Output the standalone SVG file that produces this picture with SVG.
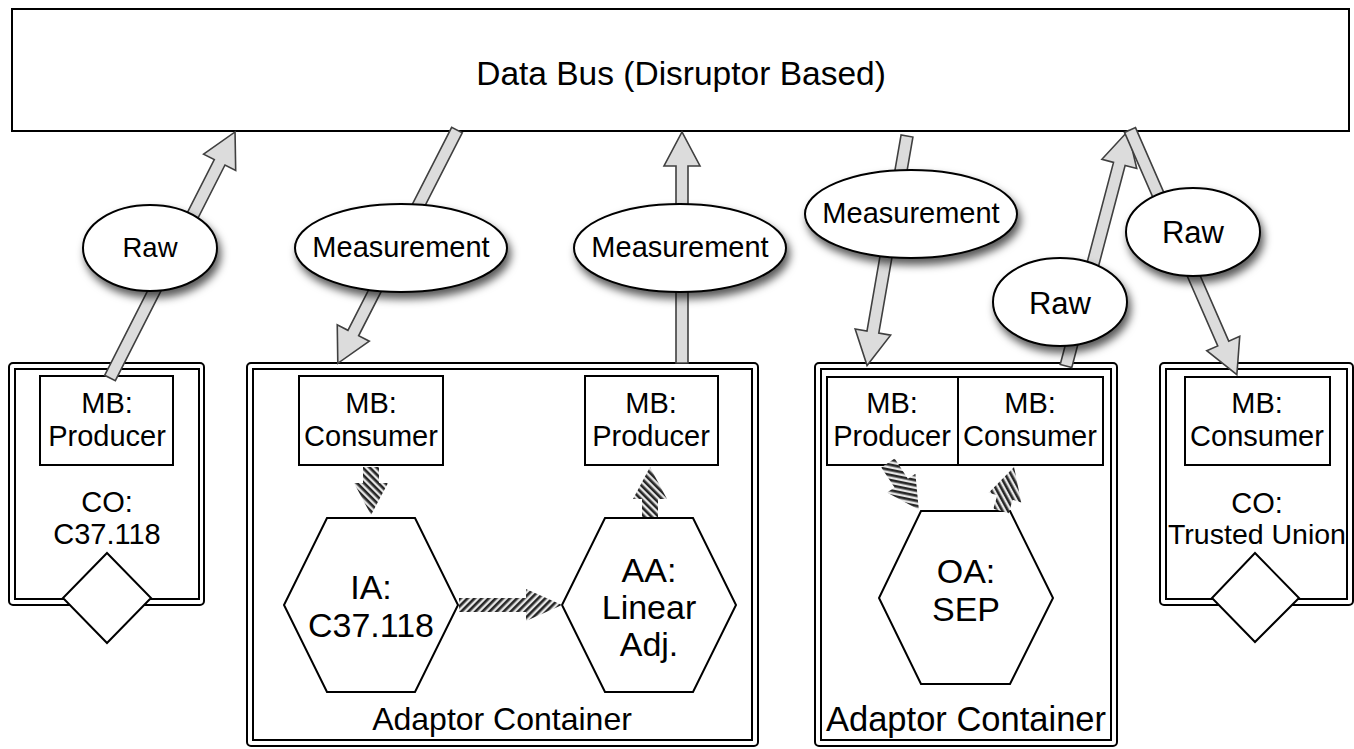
<svg xmlns="http://www.w3.org/2000/svg" width="1354" height="749" viewBox="0 0 1354 749">
  <defs>
    <style>
      text { font-family: "Liberation Sans", Arial, sans-serif; fill: #000; text-anchor: middle; }
      .box { fill: #fff; stroke: #000; stroke-width: 2; }
      .outer { fill: #fff; stroke: #000; stroke-width: 2; }
      .inner { fill: none; stroke: #000; stroke-width: 2; }
      .hex { fill: #fff; stroke: #000; stroke-width: 2; stroke-linejoin: miter; }
      .flow { fill: #dcdcdc; stroke: #404040; stroke-width: 1.6; stroke-linejoin: miter; }
      .link { fill: url(#stripes); stroke: none; }
      .tag { fill: #fff; stroke: #000; stroke-width: 2; filter: url(#shadow); }
      .t29 { font-size: 29px; }
      .t31 { font-size: 31px; }
      .t34 { font-size: 34px; }
    </style>
    <pattern id="stripes" width="5" height="5" patternUnits="userSpaceOnUse" patternTransform="rotate(45)">
      <rect width="5" height="5" fill="#e6e6e6"/>
      <rect width="2.6" height="5" fill="#262626"/>
    </pattern>
    <filter id="shadow" x="-30%" y="-30%" width="160%" height="180%">
      <feDropShadow dx="3" dy="6" stdDeviation="4" flood-color="#000" flood-opacity="0.65"/>
    </filter>
  </defs>

  <!-- shared bus -->
  <g id="data-bus">
    <rect x="12" y="9" width="1337" height="122" class="box"/>
    <text x="681" y="85" style="font-size:33.5px">Data Bus (Disruptor Based)</text>
  </g>

  <!-- left connector: C37.118 -->
  <g id="co-c37">
    <rect x="9" y="363" width="195" height="242" rx="4" class="outer"/>
    <rect x="15" y="369" width="184" height="230" class="inner"/>
    <rect x="40" y="376" width="133" height="89" class="box"/>
    <text x="107" y="413" class="t29">MB:</text>
    <text x="107" y="446" class="t29">Producer</text>
    <text x="107" y="512" class="t29">CO:</text>
    <text x="107" y="544" class="t29">C37.118</text>
    <polygon points="107,553 151,598 107,643 63,598" class="box"/>
  </g>

  <!-- adaptor container: input + linear adjustment -->
  <g id="adaptor-container-1">
    <rect x="247" y="363" width="511" height="383" rx="4" class="outer"/>
    <rect x="253" y="369" width="499" height="371" class="inner"/>
    <text x="502" y="730" style="font-size:32px">Adaptor Container</text>
  </g>
  <g id="mb-consumer-1">
    <rect x="299" y="376" width="144" height="89" class="box"/>
    <text x="371" y="413" class="t29">MB:</text>
    <text x="371" y="446" class="t29">Consumer</text>
  </g>
  <g id="mb-producer-1">
    <rect x="585" y="376" width="133" height="89" class="box"/>
    <text x="651" y="413" class="t29">MB:</text>
    <text x="651" y="446" class="t29">Producer</text>
  </g>
  <g id="ia-c37">
    <polygon points="327,518 415,518 458,605 415,692 327,692 284,605" class="hex"/>
    <text x="371" y="599" class="t34">IA:</text>
    <text x="371" y="637" class="t34">C37.118</text>
  </g>
  <g id="aa-linear">
    <polygon points="605,518 693,518 736,605 693,692 605,692 562,605" class="hex"/>
    <text x="649" y="582" class="t34">AA:</text>
    <text x="649" y="619" class="t34">Linear</text>
    <text x="649" y="656" class="t34">Adj.</text>
  </g>

  <!-- adaptor container: output SEP -->
  <g id="adaptor-container-2">
    <rect x="815" y="363" width="302" height="383" rx="4" class="outer"/>
    <rect x="821" y="369" width="290" height="371" class="inner"/>
    <text x="966" y="731" style="font-size:34.5px">Adaptor Container</text>
  </g>
  <g id="mb-producer-2">
    <rect x="827" y="377" width="131" height="88" class="box"/>
    <text x="892" y="413" class="t29">MB:</text>
    <text x="892" y="446" class="t29">Producer</text>
  </g>
  <g id="mb-consumer-2">
    <rect x="958" y="377" width="145" height="88" class="box"/>
    <text x="1030" y="413" class="t29">MB:</text>
    <text x="1030" y="446" class="t29">Consumer</text>
  </g>
  <g id="oa-sep">
    <polygon points="921,511 1010,511 1053,598 1010,684 921,684 879,598" class="hex"/>
    <text x="966" y="583" class="t34">OA:</text>
    <text x="966" y="621" class="t34">SEP</text>
  </g>

  <!-- right connector: Trusted Union -->
  <g id="co-trusted-union">
    <rect x="1160" y="363" width="193" height="242" rx="4" class="outer"/>
    <rect x="1166" y="369" width="181" height="230" class="inner"/>
    <rect x="1185" y="377" width="145" height="88" class="box"/>
    <text x="1257" y="413" class="t29">MB:</text>
    <text x="1257" y="446" class="t29">Consumer</text>
    <text x="1257" y="513" class="t29">CO:</text>
    <text x="1257" y="544" style="font-size:28.5px">Trusted Union</text>
    <polygon points="1255,553 1299,598 1255,642 1212,598" class="box"/>
  </g>

  <!-- connectors -->
  <g id="connectors">
    <!-- bus flows: hollow block arrows drawn tail to tip along local x -->
    <path class="flow" transform="translate(110,378) rotate(-63.06)" d="M0,-6 H242 V-18 L276,0 L242,18 V6 H0 Z"/>
    <path class="flow" transform="translate(457,130) rotate(117.06)" d="M0,-6 H228 V-18 L262,0 L228,18 V6 H0 Z"/>
    <path class="flow" transform="translate(682,363) rotate(-90)" d="M0,-6 H197 V-18 L231,0 L197,18 V6 H0 Z"/>
    <path class="flow" transform="translate(907,136) rotate(99.87)" d="M0,-6 H199 V-18 L233,0 L199,18 V6 H0 Z"/>
    <path class="flow" transform="translate(1066,366) rotate(-75.22)" d="M0,-6 H209 V-18 L243,0 L209,18 V6 H0 Z"/>
    <path class="flow" transform="translate(1130,130) rotate(66.41)" d="M0,-6 H233 V-18 L267,0 L233,18 V6 H0 Z"/>

    <!-- internal links: striped arrows -->
    <path class="link" transform="translate(371,467) rotate(90)" d="M0,-8 H16 V-17 L48,0 L16,17 V8 H0 Z"/>
    <path class="link" transform="translate(650,517) rotate(-90)" d="M0,-8 H18 V-17 L50,0 L18,17 V8 H0 Z"/>
    <path class="link" transform="translate(459,605)" d="M0,-7 H67 V-16 L103,0 L67,16 V7 H0 Z"/>
    <path class="link" transform="translate(888,463) rotate(56.6)" d="M0,-8 H24 V-17 L56,0 L24,17 V8 H0 Z"/>
    <path class="link" transform="translate(1001,511) rotate(-73.5)" d="M0,-8 H14 V-17 L46,0 L14,17 V8 H0 Z"/>
  </g>

  <!-- message type labels on the bus flows -->
  <g id="label-raw-1">
    <ellipse cx="150" cy="248" rx="67" ry="43" class="tag"/>
    <text x="150" y="257" style="font-size:27.5px">Raw</text>
  </g>
  <g id="label-measurement-1">
    <ellipse cx="401" cy="248" rx="106" ry="44" class="tag"/>
    <text x="401" y="257" class="t29">Measurement</text>
  </g>
  <g id="label-measurement-2">
    <ellipse cx="680" cy="248" rx="106" ry="44" class="tag"/>
    <text x="680" y="257" class="t29">Measurement</text>
  </g>
  <g id="label-measurement-3">
    <ellipse cx="911" cy="214" rx="106" ry="44" class="tag"/>
    <text x="911" y="223" class="t29">Measurement</text>
  </g>
  <g id="label-raw-2">
    <ellipse cx="1060" cy="302" rx="67" ry="44" class="tag"/>
    <text x="1060" y="314" class="t31">Raw</text>
  </g>
  <g id="label-raw-3">
    <ellipse cx="1193" cy="232" rx="67" ry="44" class="tag"/>
    <text x="1193" y="243" class="t31">Raw</text>
  </g>
</svg>
